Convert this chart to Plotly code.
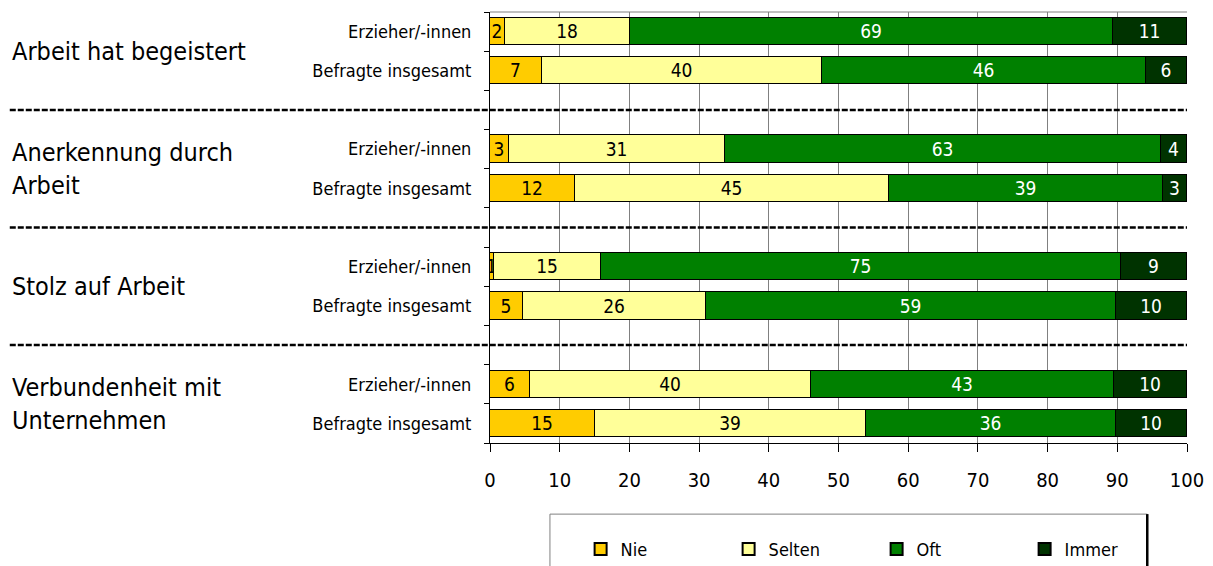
import plotly.graph_objects as go

FONT = 'Liberation Sans Narrow, DejaVu Sans Condensed, Arial Narrow, sans-serif'

groups = ['Arbeit hat begeistert', 'Anerkennung durch<br>Arbeit',
          'Stolz auf Arbeit', 'Verbundenheit mit<br>Unternehmen']
rows = ['Erzieher/-innen', 'Befragte insgesamt']

# one value per bar, in the order: group1 Erzieher, group1 Befragte, group2 ...
nie    = [2.2, 7.4, 2.7, 12.2, 0.6, 4.7, 5.7, 15.0]
selten = [17.9, 40.2, 31.0, 45.0, 15.3, 26.3, 40.4, 39.0]
oft    = [69.3, 46.5, 62.6, 39.4, 74.7, 58.8, 43.4, 35.8]
immer  = [10.6, 5.9, 3.7, 3.4, 9.4, 10.2, 10.5, 10.2]

series = [
    ('Nie', nie, '#FFCC00', 'black'),
    ('Selten', selten, '#FFFF99', 'black'),
    ('Oft', oft, '#008000', 'white'),
    ('Immer', immer, '#003300', 'white'),
]

# bar slots: two bars per group, one empty slot between groups
ypos = [3 * g + r for g in range(len(groups)) for r in range(2)]
ylabels = [rows[r] for g in range(len(groups)) for r in range(2)]
gaps = [3 * g + 2 for g in range(len(groups) - 1)]
bounds = [i - 0.5 for i in range(12)]

fig = go.Figure()
for name, vals, color, tcolor in series:
    fig.add_trace(go.Bar(
        name=name, x=vals, y=ypos, orientation='h', width=0.7,
        marker=dict(color=color, line=dict(color='black', width=1)),
        text=[f'{v:.0f}' for v in vals], textposition='inside', textangle=0,
        insidetextanchor='middle', constraintext='none',
        textfont=dict(color=tcolor, size=19, family=FONT),
        hoverinfo='skip',
    ))

shapes = [dict(type='line', xref='paper', yref='y', x0=-0.689, x1=1, y0=y, y1=y,
               line=dict(color='black', width=2.5, dash='6px,2px'))
          for y in gaps]
# plot frame top
shapes.append(dict(type='line', xref='paper', yref='paper', x0=0, x1=1, y0=1, y1=1,
                   line=dict(color='#808080', width=1)))
# legend frame (runs off the bottom edge, with a dark right side)
shapes.append(dict(type='rect', xref='paper', yref='paper', x0=0.086, x1=0.943,
                   y0=-0.165, y1=-0.4, line=dict(color='#808080', width=1),
                   fillcolor='white', layer='below'))
shapes.append(dict(type='line', xref='paper', yref='paper', x0=0.943, x1=0.943,
                   y0=-0.165, y1=-0.4, line=dict(color='black', width=2.5)))

annotations = [dict(text=g, xref='paper', yref='y', x=-0.689, y=3 * i + 0.5,
                    xanchor='left', yanchor='middle', align='left', showarrow=False,
                    font=dict(size=25, color='black', family=FONT))
               for i, g in enumerate(groups)]

fig.update_layout(
    width=1205, height=558,
    paper_bgcolor='white', plot_bgcolor='white',
    barmode='stack', bargap=0,
    font=dict(family=FONT, color='black', size=18),
    margin=dict(l=482, r=26, t=4, b=123, autoexpand=False),
    uniformtext=dict(minsize=18, mode='show'),
    shapes=shapes, annotations=annotations,
    showlegend=True,
    legend=dict(
        orientation='h', traceorder='normal',
        x=0.13, xanchor='left', yref='container', y=0.03, yanchor='middle',
        entrywidth=103, font=dict(size=18, family=FONT),
        borderwidth=0, bgcolor='rgba(0,0,0,0)',
        itemsizing='constant',
    ),
    xaxis=dict(
        range=[0, 100], dtick=10, showgrid=True, gridcolor='#808080', gridwidth=1,
        showline=True, linecolor='black', linewidth=1, ticks='outside',
        ticklen=8, tickcolor='black', ticklabelstandoff=11,
        tickfont=dict(size=20, family=FONT), zeroline=False,
    ),
    yaxis=dict(
        range=[10.5, -0.5], tickmode='array', tickvals=ypos, ticktext=ylabels,
        ticks='', showgrid=False, zeroline=False, showline=True,
        linecolor='black', linewidth=1, ticklabelstandoff=14,
        tickfont=dict(size=18, family=FONT),
        minor=dict(tickmode='array', tickvals=bounds, ticks='outside',
                   ticklen=5, tickcolor='black', showgrid=False),
    ),
)

fig.write_html('out.html')
